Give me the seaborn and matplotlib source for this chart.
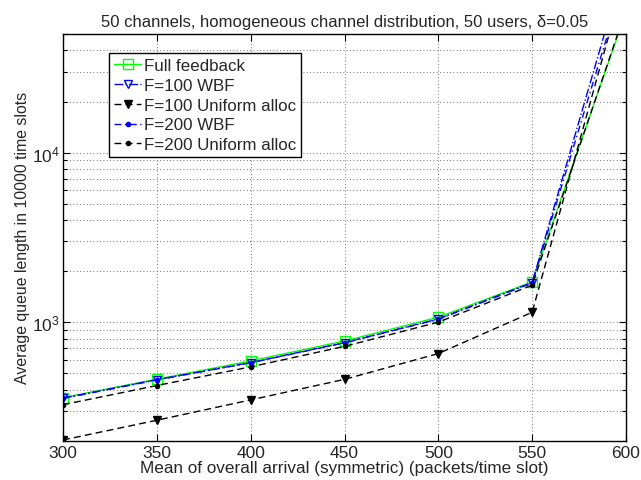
import math
import matplotlib
matplotlib.use("Agg")
import matplotlib.pyplot as plt
import matplotlib.ticker as mticker
import seaborn as sns
import pandas as pd

# ---- data ----
arrival = [300, 350, 400, 450, 500, 550, 600]
full_feedback = [359, 461, 591, 774, 1070, 1727, 67500]
f100_wbf = [356, 458, 578, 757, 1045, 1713, 137000]
f100_uniform = [202, 264, 348, 460, 653, 1144, 114000]
f200_wbf = [355, 456, 576, 755, 1040, 1700, 112700]
f200_uniform = [326, 423, 545, 720, 1000, 1653, 69500]
series_names = ["Full feedback", "F=100 WBF", "F=100 Uniform alloc",
                "F=200 WBF", "F=200 Uniform alloc"]
x_ticks = [300, 350, 400, 450, 500, 550, 600]

title = "50 channels, homogeneous channel distribution, 50 users, \u03b4=0.05"
xlabel = "Mean of overall arrival (symmetric) (packets/time slot)"
ylabel = "Average queue length in 10000 time slots"

sns.set_style("ticks")
plt.rcParams['font.family'] = ['Liberation Sans', 'DejaVu Sans']
plt.rcParams['mathtext.default'] = 'regular'
plt.rcParams['xtick.direction'] = 'in'
plt.rcParams['ytick.direction'] = 'in'

fig = plt.figure(figsize=(6.41, 4.81), dpi=100)
ax = fig.add_axes([0.0983, 0.0817, 0.8783, 0.8455])

values = [full_feedback, f100_wbf, f100_uniform, f200_wbf, f200_uniform]
styles = [
    dict(color="#00ff00", linestyle="-", marker="s", markersize=7,
         markerfacecolor="none", markeredgecolor="#00ff00", markeredgewidth=1.0, lw=1.0),
    dict(color="#0000ff", linestyle="-.", marker="v", markersize=6,
         markerfacecolor="none", markeredgecolor="#0000ff", markeredgewidth=1.0, lw=1.0),
    dict(color="black", linestyle=(0, (5, 3)), marker="v", markersize=6,
         markerfacecolor="black", markeredgecolor="black", markeredgewidth=1.0, lw=1.0),
    dict(color="#0000ff", linestyle=(0, (5, 2.5, 1, 2.5)), marker=".", markersize=6,
         markerfacecolor="#0000ff", markeredgecolor="#0000ff", markeredgewidth=1.0, lw=1.0),
    dict(color="black", linestyle=(0, (5, 3)), marker=".", markersize=6,
         markerfacecolor="black", markeredgecolor="black", markeredgewidth=1.0, lw=1.0),
]

for name, vals, st in zip(series_names, values, styles):
    df = pd.DataFrame({"x": arrival, "y": vals})
    sns.lineplot(data=df, x="x", y="y", ax=ax, label=name, **st)

ax.set_yscale("log")
ax.set_xlim(300, 600)
ax.set_ylim(200, 5e4)
ax.set_xticks(x_ticks)
ax.set_xticklabels([str(t) for t in x_ticks])
ax.yaxis.set_major_locator(mticker.LogLocator(base=10))
ax.yaxis.set_minor_locator(mticker.LogLocator(base=10, subs=range(2, 10)))
ax.yaxis.set_major_formatter(mticker.FuncFormatter(
    lambda v, p: "$10^{%d}$" % round(math.log10(v))))
ax.yaxis.set_minor_formatter(mticker.NullFormatter())

ax.grid(True, which="major", axis="both", linestyle=(0, (1, 3)), color="#444444", lw=0.6)
ax.grid(True, which="minor", axis="y", linestyle=(0, (1, 3)), color="#444444", lw=0.6)

ax.tick_params(which="both", top=True, right=True, width=0.8, color="black")
ax.tick_params(axis="x", labelsize=12.5, pad=3)
ax.tick_params(axis="y", labelsize=12.5, pad=2)
ax.tick_params(which="major", length=5)
ax.tick_params(which="minor", length=3)
for s in ax.spines.values():
    s.set_color("black")
    s.set_linewidth(1.0)

ax.set_title(title, fontsize=12, pad=6)
ax.set_xlabel(xlabel, fontsize=12.3, labelpad=0)
ax.set_ylabel(ylabel, fontsize=11.4, labelpad=2)

leg = ax.legend(loc="upper left", bbox_to_anchor=(0.082, 0.953), borderaxespad=0,
                fontsize=12.2, frameon=True, fancybox=False, handlelength=1.6,
                handletextpad=0.15, labelspacing=0.28, borderpad=0.3)
leg.get_frame().set_edgecolor("black")
leg.get_frame().set_linewidth(1.0)
leg.get_frame().set_alpha(1.0)

fig.savefig("out.png", dpi=100)
